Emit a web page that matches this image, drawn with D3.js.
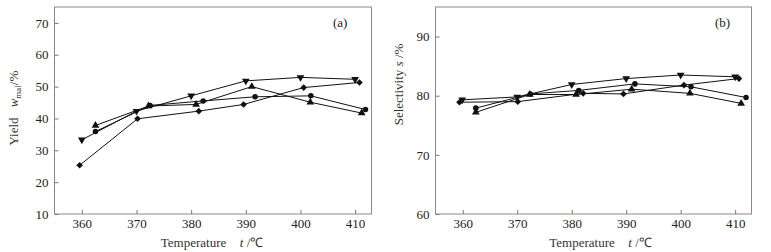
<!DOCTYPE html>
<html>
<head>
<meta charset="utf-8">
<script src="https://cdn.jsdelivr.net/npm/d3@7"></script>
<style>
  body { margin: 0; background: #fff; }
  svg { display: block; }
</style>
</head>
<body>
<script>
// two panels: yield (a) and selectivity (b) vs temperature
const width = 771;
const height = 252;

const xTicks = [360, 370, 380, 390, 400, 410];
const yieldTicks = [10, 20, 30, 40, 50, 60, 70];
const selTicks = [60, 70, 80, 90];

// (a) yield, w_mal /%
const yieldDownT = [360, 370, 380, 390, 400, 410];
const yieldDownV = [33.3, 42.3, 47.1, 51.8, 52.9, 52.3];
const yieldUpT = [362.5, 372.2, 380.9, 391.1, 401.8, 411.2];
const yieldUpV = [37.8, 43.9, 44.4, 50.0, 45.1, 41.7];
const yieldCircT = [362.5, 372.5, 382.2, 391.7, 401.9, 411.9];
const yieldCircV = [35.9, 44.1, 45.5, 46.8, 47.1, 42.8];
const yieldDiaT = [359.6, 370.2, 381.4, 389.6, 400.6, 410.8];
const yieldDiaV = [25.3, 39.9, 42.3, 44.4, 49.7, 51.3];

// (b) selectivity, s /%
const selDownT = [359.9, 370.0, 380.0, 390.0, 400.0, 410.0];
const selDownV = [79.3, 79.8, 81.9, 82.9, 83.5, 83.2];
const selUpT = [362.4, 372.3, 380.8, 391.0, 401.7, 411.1];
const selUpV = [77.2, 80.2, 80.2, 81.1, 80.4, 78.7];
const selCircT = [362.4, 372.4, 381.3, 391.6, 401.9, 412.0];
const selCircV = [77.9, 80.3, 80.9, 82.0, 81.5, 79.7];
const selDiaT = [359.4, 370.1, 382.1, 389.5, 400.6, 410.7];
const selDiaV = [78.9, 79.0, 80.4, 80.3, 81.8, 82.9];

const font = '"Liberation Serif", "Times New Roman", serif';

const svg = d3.select('body')
    .append('svg')
    .attr('width', width)
    .attr('height', height)
    .style('font-family', font)
    .style('font-size', '13px');

const zip = (t, v) => t.map((d, i) => ({t: d, v: v[i]}));

const markers = {
    down: d3.symbol().type(d3.symbolTriangle).size(26),
    up: d3.symbol().type(d3.symbolTriangle).size(26),
    circ: d3.symbol().type(d3.symbolCircle).size(24),
    dia: d3.symbol().type(d3.symbolSquare).size(22)   // turned 45deg below
};
const turn = {down: ' rotate(180)', up: '', circ: '', dia: ' rotate(45)'};

function drawPanel(p) {
    const x = d3.scaleLinear().domain([355, 413]).range([p.left, p.right]);
    const y = d3.scaleLinear().domain(p.yDomain).range([214, 7]);

    const g = svg.append('g');

    // inward ticks
    g.append('g')
        .attr('transform', 'translate(0,214)')
        .call(d3.axisBottom(x).tickValues(xTicks).tickSize(-4).tickPadding(5))
        .call(a => a.select('.domain').remove());
    g.append('g')
        .attr('transform', `translate(${p.left},0)`)
        .call(d3.axisLeft(y).tickValues(p.yTicks).tickSize(-4).tickPadding(6))
        .call(a => a.select('.domain').remove());

    g.selectAll('.tick line').attr('stroke', '#777');
    g.selectAll('.tick text')
        .attr('fill', '#222')
        .style('font-family', font)
        .style('font-size', '13px');

    g.append('rect')
        .attr('x', p.left)
        .attr('y', 7)
        .attr('width', p.right - p.left)
        .attr('height', 207)
        .attr('fill', 'none')
        .attr('stroke', '#888')
        .attr('stroke-width', 1);

    const line = d3.line().x(d => x(d.t)).y(d => y(d.v));

    p.series.forEach(s => {
        g.append('path')
            .datum(s.data)
            .attr('fill', 'none')
            .attr('stroke', '#111')
            .attr('stroke-width', 1)
            .attr('d', line);
        g.selectAll(null)
            .data(s.data)
            .enter().append('path')
            .attr('d', markers[s.shape])
            .attr('fill', '#111')
            .attr('transform', d => `translate(${x(d.t)},${y(d.v)})` + turn[s.shape]);
    });

    // panel letter
    g.append('text')
        .attr('x', p.letterX)
        .attr('y', 27)
        .attr('fill', '#222')
        .text(p.letter);

    // x axis title
    g.append('text')
        .attr('x', p.tempX)
        .attr('y', 247)
        .attr('text-anchor', 'middle')
        .attr('fill', '#333')
        .text('Temperature');
    const tx = g.append('text')
        .attr('x', p.tempX + 58)
        .attr('y', 247)
        .attr('text-anchor', 'middle')
        .attr('fill', '#333');
    tx.append('tspan').style('font-style', 'italic').text('t');
    tx.append('tspan').text(' /℃');

    // y axis title
    g.append('text')
        .attr('transform', `translate(${p.titleX},${p.nameY}) rotate(-90)`)
        .attr('text-anchor', 'middle')
        .attr('fill', '#333')
        .text(p.name);
    const ty = g.append('text')
        .attr('transform', `translate(${p.titleX},${p.symY}) rotate(-90)`)
        .attr('text-anchor', 'middle')
        .attr('fill', '#333');
    ty.append('tspan').style('font-style', 'italic').text(p.sym);
    if (p.sub) {
        ty.append('tspan').attr('dy', 3).style('font-size', '9px').text(p.sub);
        ty.append('tspan').attr('dy', -3).text('/%');
    } else {
        ty.append('tspan').text(' /%');
    }
}

drawPanel({
    left: 54.5, right: 371.5,
    yDomain: [10, 75], yTicks: yieldTicks,
    letter: '(a)', letterX: 333,
    tempX: 193.5,
    titleX: 18, name: 'Yield', nameY: 131.5, sym: 'w', sub: 'mal', symY: 89,
    series: [
        {shape: 'down', data: zip(yieldDownT, yieldDownV)},
        {shape: 'up', data: zip(yieldUpT, yieldUpV)},
        {shape: 'circ', data: zip(yieldCircT, yieldCircV)},
        {shape: 'dia', data: zip(yieldDiaT, yieldDiaV)}
    ]
});

drawPanel({
    left: 435.5, right: 751.5,
    yDomain: [60, 95], yTicks: selTicks,
    letter: '(b)', letterX: 715,
    tempX: 582,
    titleX: 402.5, name: 'Selectivity', nameY: 97.5, sym: 's', sub: null, symY: 55,
    series: [
        {shape: 'down', data: zip(selDownT, selDownV)},
        {shape: 'up', data: zip(selUpT, selUpV)},
        {shape: 'circ', data: zip(selCircT, selCircV)},
        {shape: 'dia', data: zip(selDiaT, selDiaV)}
    ]
});
</script>
</body>
</html>
